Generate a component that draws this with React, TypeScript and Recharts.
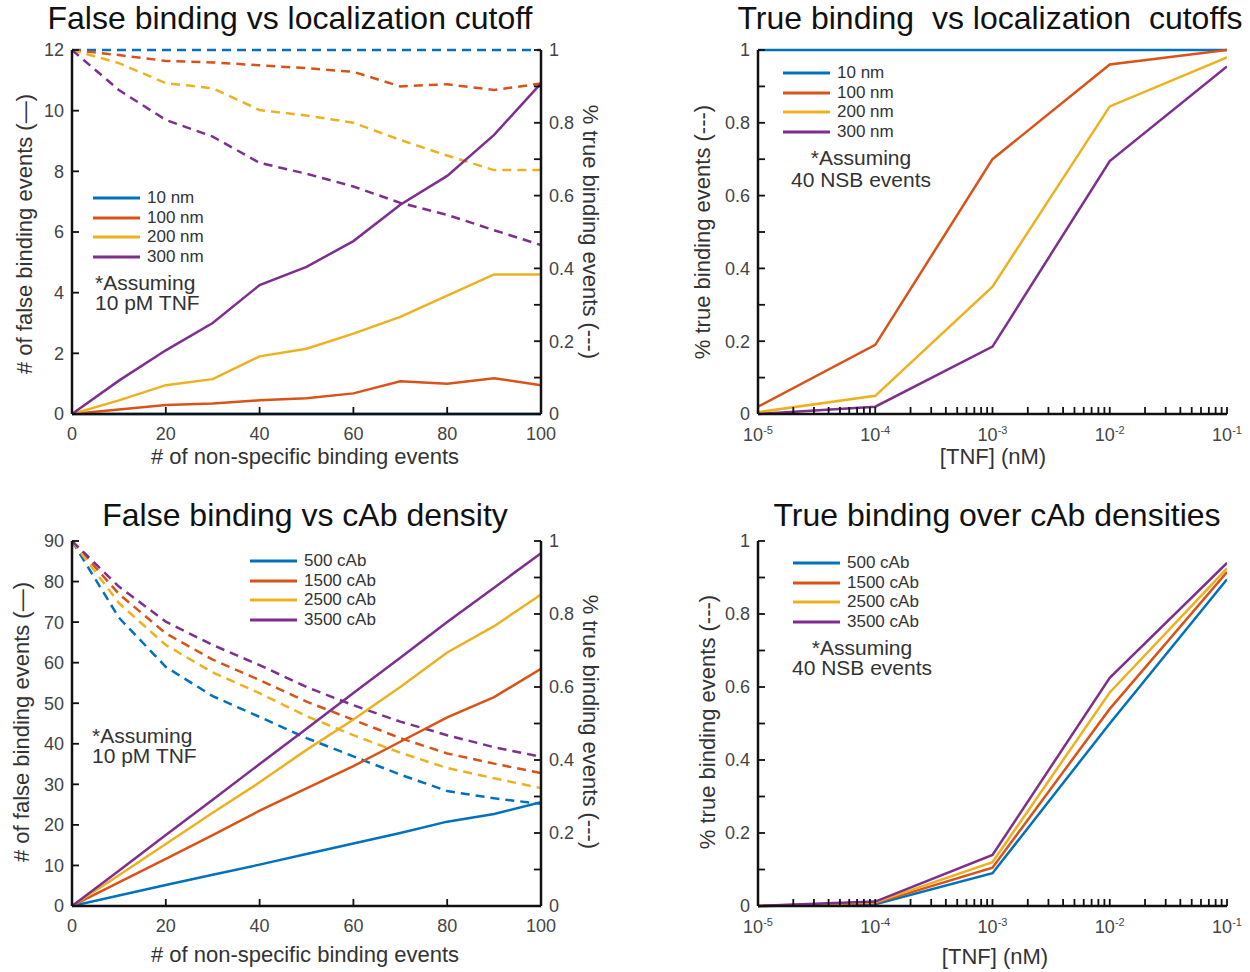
import React from 'react';
import { LineChart, Line, XAxis, YAxis, Legend } from 'recharts';

const FONT = '"Liberation Sans", Arial, sans-serif';

// MATLAB default line colours
const seriesColors = ['#0072BD', '#D95319', '#EDB120', '#7E2F8E'];

// ---- top row: localization cutoff ----
const nsbEvents = [0, 10, 20, 30, 40, 50, 60, 70, 80, 90, 100];
const cutoffNames = ['10 nm', '100 nm', '200 nm', '300 nm'];
const cutoffFalse10 = [0, 0, 0, 0, 0, 0, 0, 0, 0, 0, 0];
const cutoffFalse100 = [0, 0.15, 0.3, 0.35, 0.45, 0.52, 0.68, 1.08, 1.0, 1.18, 0.95];
const cutoffFalse200 = [0, 0.45, 0.95, 1.15, 1.9, 2.15, 2.65, 3.2, 3.9, 4.6, 4.6];
const cutoffFalse300 = [0, 1.1, 2.1, 3.0, 4.25, 4.85, 5.7, 6.9, 7.85, 9.2, 10.9];
const cutoffTrue10 = [1, 1, 1, 1, 1, 1, 1, 1, 1, 1, 1];
const cutoffTrue100 = [1, 0.986, 0.97, 0.966, 0.958, 0.95, 0.94, 0.9, 0.906, 0.89, 0.908];
const cutoffTrue200 = [1, 0.964, 0.909, 0.895, 0.835, 0.82, 0.8, 0.753, 0.71, 0.67, 0.67];
const cutoffTrue300 = [1, 0.89, 0.808, 0.762, 0.69, 0.66, 0.625, 0.58, 0.547, 0.505, 0.464];

const tnfConc = [1e-5, 1e-4, 1e-3, 1e-2, 1e-1];
const tnfCutoff10 = [1, 1, 1, 1, 1];
const tnfCutoff100 = [0.02, 0.19, 0.7, 0.96, 1.0];
const tnfCutoff200 = [0.005, 0.05, 0.35, 0.845, 0.98];
const tnfCutoff300 = [0.0, 0.02, 0.185, 0.695, 0.955];

// ---- bottom row: cAb density ----
const cabNames = ['500 cAb', '1500 cAb', '2500 cAb', '3500 cAb'];
const cabFalse500 = [0, 2.6, 5.2, 7.7, 10.2, 12.8, 15.4, 18, 20.8, 22.7, 25.6];
const cabFalse1500 = [0, 5.8, 11.6, 17.5, 23.5, 29, 34.5, 40.5, 46.5, 51.5, 58.5];
const cabFalse2500 = [0, 7.6, 15.3, 23, 30.5, 38.5, 46, 54, 62.5, 69, 76.8];
const cabFalse3500 = [0, 8.7, 17.5, 26.2, 35, 43.7, 52.5, 61.2, 70, 78.5, 87];
const cabTrue500 = [1, 0.79, 0.655, 0.575, 0.518, 0.46, 0.41, 0.36, 0.315, 0.295, 0.28];
const cabTrue1500 = [1, 0.855, 0.747, 0.675, 0.619, 0.56, 0.51, 0.46, 0.418, 0.39, 0.364];
const cabTrue2500 = [1, 0.83, 0.715, 0.64, 0.583, 0.52, 0.468, 0.42, 0.378, 0.35, 0.323];
const cabTrue3500 = [1, 0.875, 0.779, 0.715, 0.66, 0.6, 0.55, 0.505, 0.468, 0.435, 0.409];

const tnfCab500 = [0, 0.005, 0.09, 0.5, 0.895];
const tnfCab1500 = [0, 0.008, 0.105, 0.54, 0.915];
const tnfCab2500 = [0, 0.01, 0.12, 0.585, 0.925];
const tnfCab3500 = [0, 0.012, 0.14, 0.625, 0.94];

// ---- ticks ----
const nsbTicks = [0, 20, 40, 60, 80, 100];
const cutoffFalseTicks = [0, 2, 4, 6, 8, 10, 12];
const cabFalseTicks = [0, 10, 20, 30, 40, 50, 60, 70, 80, 90];
const fracTicks = [0, 0.1, 0.2, 0.3, 0.4, 0.5, 0.6, 0.7, 0.8, 0.9, 1];
const fracLabels = ['0', '', '0.2', '', '0.4', '', '0.6', '', '0.8', '', '1'];
const tnfTicks = [1e-5, 1e-4, 1e-3, 1e-2, 1e-1];
const tnfExponents = ['-5', '-4', '-3', '-2', '-1'];
const tnfMinor = [2, 3, 4, 5, 6, 7, 8, 9];
const tnfAllTicks = [
  ...tnfTicks.slice(0, -1).flatMap((t) => [t, ...tnfMinor.map((m) => t * m)]),
  tnfTicks[tnfTicks.length - 1],
];

const rows = (xs: number[], cols: Record<string, number[]>) =>
  xs.map((x, i) => {
    const r: Record<string, number> = { x };
    Object.keys(cols).forEach((k) => (r[k] = cols[k][i]));
    return r;
  });

const cutoffData = rows(nsbEvents, {
  f0: cutoffFalse10, f1: cutoffFalse100, f2: cutoffFalse200, f3: cutoffFalse300,
  t0: cutoffTrue10, t1: cutoffTrue100, t2: cutoffTrue200, t3: cutoffTrue300,
});
const cutoffTnfData = rows(tnfConc, { t0: tnfCutoff10, t1: tnfCutoff100, t2: tnfCutoff200, t3: tnfCutoff300 });
const cabData = rows(nsbEvents, {
  f0: cabFalse500, f1: cabFalse1500, f2: cabFalse2500, f3: cabFalse3500,
  t0: cabTrue500, t1: cabTrue1500, t2: cabTrue2500, t3: cabTrue3500,
});
const cabTnfData = rows(tnfConc, { t0: tnfCab500, t1: tnfCab1500, t2: tnfCab2500, t3: tnfCab3500 });

const tickStyle = { fontSize: 18, fill: '#444', fontFamily: FONT };
const axisLine = { stroke: '#111', strokeWidth: 2.5 };
const tickLine = { stroke: '#111', strokeWidth: 1.8 };
const fracFormat = (v: number) => fracLabels[Math.round(v * 10)] ?? '';

function LogTick(props: any) {
  const { x, y, payload } = props;
  const i = tnfTicks.findIndex((t) => Math.abs(t - payload.value) < t * 1e-6);
  if (i < 0) return <g />;
  return (
    <text x={x} y={y} textAnchor="middle" fill="#444" fontSize={18} fontFamily={FONT}>
      <tspan dy={14}>10</tspan>
      <tspan dy={-7} fontSize={11}>{tnfExponents[i]}</tspan>
    </text>
  );
}

function legendContent(names: string[]) {
  return () => (
    <div style={{ fontFamily: FONT, fontSize: 17, color: '#333' }}>
      {names.map((n, i) => (
        <div key={n} style={{ display: 'flex', alignItems: 'center', height: 19.7 }}>
          <svg width={47} height={6} style={{ marginRight: 7 }}>
            <line x1={0} y1={3} x2={47} y2={3} stroke={seriesColors[i]} strokeWidth={3} />
          </svg>
          <span>{n}</span>
        </div>
      ))}
    </div>
  );
}

function Text({ x, y, children, rotate, size = 22, align = 'center', color = '#333', lh = 1 }: any) {
  const tx = align === 'center' ? '-50%' : '0';
  return (
    <div
      style={{
        position: 'absolute', left: x, top: y, whiteSpace: 'pre', fontSize: size, color,
        fontFamily: FONT, lineHeight: lh, textAlign: align,
        transform: `translate(${tx},-50%)${rotate ? ` rotate(${rotate}deg)` : ''}`,
      }}
    >
      {children}
    </div>
  );
}

type PanelProps = {
  left: number; top: number; margin: any; data: any[]; logX: boolean;
  falseTicks?: number[]; names: string[]; legendPos: { left: number; top: number };
};

function Panel({ left, top, margin, data, logX, falseTicks, names, legendPos }: PanelProps) {
  const dual = !!falseTicks;
  const xProps = logX
    ? { scale: 'log' as const, domain: [1e-5, 1e-1], ticks: tnfAllTicks, tick: <LogTick /> }
    : { domain: [0, 100], ticks: nsbTicks, tick: tickStyle };
  return (
    <div style={{ position: 'absolute', left, top }}>
      <LineChart width={630} height={480} data={data} margin={margin}>
        <XAxis
          dataKey="x" type="number" allowDataOverflow interval={0} {...xProps}
          height={30} axisLine={axisLine} tickLine={tickLine} tickSize={-7} tickMargin={20}
        />
        <XAxis
          xAxisId="top" orientation="top" dataKey="x" type="number" height={0}
          scale={logX ? 'log' : 'auto'} domain={logX ? [1e-5, 1e-1] : [0, 100]}
          tick={false} tickLine={false} axisLine={axisLine}
        />
        {dual ? (
          <YAxis
            yAxisId="left" domain={[0, falseTicks![falseTicks!.length - 1]]} ticks={falseTicks}
            width={50} interval={0} tick={tickStyle} axisLine={axisLine} tickLine={tickLine}
            tickSize={-7} tickMargin={15}
          />
        ) : null}
        <YAxis
          yAxisId="right" orientation={dual ? 'right' : 'left'} domain={[0, 1]} ticks={fracTicks}
          tickFormatter={fracFormat} width={50} interval={0} tick={tickStyle}
          axisLine={axisLine} tickLine={tickLine} tickSize={-7} tickMargin={15}
        />
        {!dual ? (
          <YAxis
            yAxisId="border" orientation="right" domain={[0, 1]} width={0}
            tick={false} tickLine={false} axisLine={axisLine}
          />
        ) : null}
        {names.map((n, i) => (
          <Line
            key={'t' + i} yAxisId="right" dataKey={'t' + i} name={n} stroke={seriesColors[i]}
            strokeWidth={2.5} dot={false} isAnimationActive={false}
            strokeDasharray={dual ? '9 6' : undefined} legendType={dual ? 'none' : 'line'}
          />
        ))}
        {dual
          ? names.map((n, i) => (
              <Line
                key={'f' + i} yAxisId="left" dataKey={'f' + i} name={n} stroke={seriesColors[i]}
                strokeWidth={2.5} dot={false} isAnimationActive={false}
              />
            ))
          : null}
        <Legend
          layout="vertical" align="center" verticalAlign="middle"
          content={legendContent(names)}
          wrapperStyle={{ left: legendPos.left, top: legendPos.top, width: 160, height: 'auto' }}
        />
      </LineChart>
    </div>
  );
}

export default function App() {
  return (
    <div
      style={{
        position: 'absolute', left: 0, top: 0, width: 1250, height: 972,
        background: '#fff', fontFamily: FONT, overflow: 'hidden',
      }}
    >
      <Panel
        left={0} top={0} data={cutoffData} logX={false} falseTicks={cutoffFalseTicks}
        names={cutoffNames} margin={{ top: 50, right: 39, bottom: 36, left: 22 }}
        legendPos={{ left: 93, top: 188 }}
      />
      <Panel
        left={620} top={0} data={cutoffTnfData} logX names={cutoffNames}
        margin={{ top: 50, right: 23, bottom: 36, left: 88 }}
        legendPos={{ left: 163, top: 63 }}
      />
      <Panel
        left={0} top={490} data={cabData} logX={false} falseTicks={cabFalseTicks}
        names={cabNames} margin={{ top: 51, right: 39, bottom: 34, left: 22 }}
        legendPos={{ left: 250, top: 61 }}
      />
      <Panel
        left={620} top={490} data={cabTnfData} logX names={cabNames}
        margin={{ top: 51, right: 23, bottom: 34, left: 88 }}
        legendPos={{ left: 173, top: 63 }}
      />

      <Text x={290} y={18} size={32} color="#111">False binding vs localization cutoff</Text>
      <Text x={990} y={18} size={32} color="#111">True binding  vs localization  cutoffs</Text>
      <Text x={305} y={515} size={32} color="#111">False binding vs cAb density</Text>
      <Text x={997} y={515} size={32} color="#111">True binding over cAb densities</Text>

      <Text x={305} y={457}># of non-specific binding events</Text>
      <Text x={993} y={457}>[TNF] (nM)</Text>
      <Text x={305} y={955}># of non-specific binding events</Text>
      <Text x={995} y={957}>[TNF] (nM)</Text>

      <Text x={25} y={234} rotate={-90}># of false binding events (—)</Text>
      <Text x={590} y={232} rotate={90}>% true binding events (---)</Text>
      <Text x={703} y={232} rotate={-90}>% true binding events (---)</Text>
      <Text x={22} y={722} rotate={-90}># of false binding events (—)</Text>
      <Text x={590} y={722} rotate={90}>% true binding events (---)</Text>
      <Text x={708} y={722} rotate={-90}>% true binding events (---)</Text>

      <Text x={95} y={293} size={21} align="left" lh="20px">{'*Assuming\n10 pM TNF'}</Text>
      <Text x={861} y={169} size={21} lh="22px">{'*Assuming\n40 NSB events'}</Text>
      <Text x={92} y={746} size={21} align="left" lh="20px">{'*Assuming\n10 pM TNF'}</Text>
      <Text x={862} y={658} size={21} lh="20px">{'*Assuming\n40 NSB events'}</Text>
    </div>
  );
}
